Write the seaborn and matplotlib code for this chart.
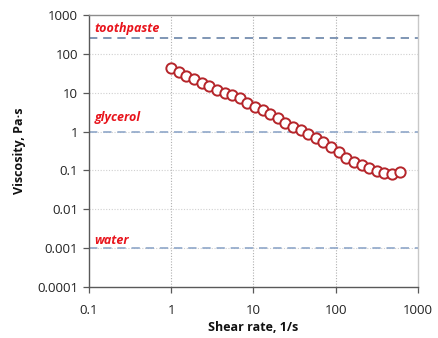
import numpy as np
import pandas as pd
import matplotlib
matplotlib.use("Agg")
import matplotlib.pyplot as plt
import seaborn as sns
from matplotlib.ticker import FixedLocator, FixedFormatter, NullLocator

# shear rate (1/s) and measured viscosity (Pa·s)
shear_rate = [1.0, 1.24, 1.53, 1.89, 2.34, 2.9, 3.59, 4.45, 5.5, 6.8,
              8.4, 10.4, 12.9, 16.0, 19.8, 24.5, 30.3, 37.5, 46.4, 57.5,
              71.0, 88.0, 109.0, 135.0, 167.0, 207.0, 256.0, 317.0, 392.0, 486.0, 601.0]
viscosity = [42.5, 34.0, 27.5, 22.0, 17.8, 14.5, 12.0, 10.0, 8.5, 7.2,
             5.4, 4.3, 3.5, 2.8, 2.2, 1.7, 1.35, 1.08, 0.87, 0.69,
             0.54, 0.41, 0.29, 0.215, 0.168, 0.138, 0.115, 0.097, 0.085, 0.083, 0.09]

# reference fluids
ref_names = ["toothpaste", "glycerol", "water"]
ref_values = [250, 1, 0.001]
ref_colors = ["#6a84a8", "#8fa7c9", "#8fa7c9"]
label_y = [460, 2.35, 0.0016]  # where the names sit

x_ticks = [0.1, 1, 10, 100, 1000]
x_labels = ["0.1", "1", "10", "100", "1000"]
y_ticks = [0.0001, 0.001, 0.01, 0.1, 1, 10, 100, 1000]
y_labels = ["0.0001", "0.001", "0.01", "0.1", "1", "10", "100", "1000"]

df = pd.DataFrame({"shear_rate": shear_rate, "viscosity": viscosity})

sns.set_theme(style="white")
plt.rcParams["font.family"] = ["Open Sans", "DejaVu Sans"]

fig = plt.figure(figsize=(4.38, 3.38), dpi=100)
ax = fig.add_axes([0.2032, 0.1509, 0.7508, 0.8047])
ax.set_xscale("log")
ax.set_yscale("log")
ax.set_xlim(0.1, 1000)
ax.set_ylim(0.0001, 1000)

# grid
for v in x_ticks[1:-1]:
    ax.axvline(v, color="#b0b0b0", lw=0.8, ls=(0, (1, 1.5)), zorder=0)
for v in y_ticks[1:-1]:
    ax.axhline(v, color="#d0d0d0", lw=0.8, ls=(0, (1, 1.5)), zorder=0)

# reference lines
for name, val, ly, col in zip(ref_names, ref_values, label_y, ref_colors):
    ax.axhline(val, color=col, lw=1.2, ls=(0, (5, 3.5)), zorder=1)
    ax.text(0.117, ly, name, color="#e8141c", fontsize=9,
            fontstyle="italic", fontweight="bold", va="center", ha="left")

sns.scatterplot(data=df, x="shear_rate", y="viscosity", ax=ax, marker="o",
                s=55, facecolor="white", edgecolor="#b5252a", linewidth=1.4,
                zorder=3, legend=False)

ax.xaxis.set_major_locator(FixedLocator(x_ticks))
ax.xaxis.set_major_formatter(FixedFormatter(x_labels))
ax.xaxis.set_minor_locator(NullLocator())
ax.yaxis.set_major_locator(FixedLocator(y_ticks))
ax.yaxis.set_major_formatter(FixedFormatter(y_labels))
ax.yaxis.set_minor_locator(NullLocator())

ax.tick_params(axis="both", which="major", direction="out", length=4, width=0.9,
               color="#595959", labelsize=9.5, labelcolor="#222222", pad=4)
ax.tick_params(axis="x", bottom=True, top=False, pad=8)
ax.tick_params(axis="y", left=True, right=False)

ax.spines["left"].set_color("#595959")
ax.spines["bottom"].set_color("#595959")
ax.spines["top"].set_color("#8c8c8c")
ax.spines["right"].set_color("#c8c8c8")
for s in ax.spines.values():
    s.set_linewidth(1.0)

ax.set_xlabel("Shear rate, 1/s", fontsize=9, fontweight="bold", color="#111111", labelpad=3)
ax.set_ylabel("Viscosity, Pa·s", fontsize=9, fontweight="bold", color="#111111", labelpad=8)

fig.savefig("out.png", dpi=100)
